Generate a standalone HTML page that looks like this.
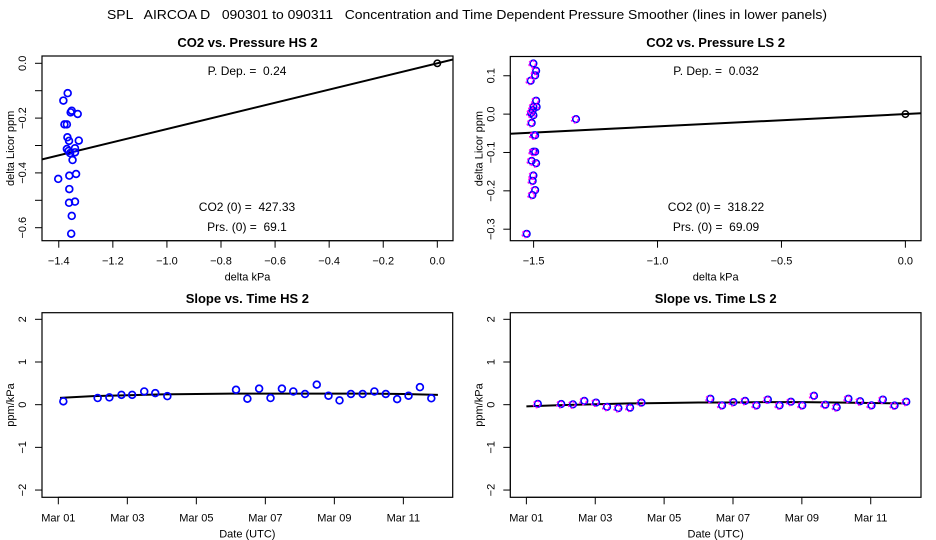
<!DOCTYPE html>
<html><head><meta charset="utf-8"><style>
html,body{margin:0;padding:0;background:#fff}
svg{display:block;font-family:"Liberation Sans",Arial,sans-serif}
</style></head><body>
<svg id="c" width="936" height="540" xmlns="http://www.w3.org/2000/svg">
<text x="467" y="19" font-size="13" text-anchor="middle" textLength="720" lengthAdjust="spacingAndGlyphs" style="white-space:pre" xml:space="preserve">SPL   AIRCOA D   090301 to 090311   Concentration and Time Dependent Pressure Smoother (lines in lower panels)</text>
</svg>
<script>
// ---- data: top-left (HS pressure scatter)
const hsPX=[-1.367,-1.383,-1.379,-1.370,-1.356,-1.352,-1.330,-1.368,-1.362,-1.326,-1.370,-1.364,-1.358,-1.340,-1.340,-1.349,-1.361,-1.336,-1.402,-1.361,-1.362,-1.340,-1.352,-1.354];
const hsPY=[-0.109,-0.136,-0.223,-0.223,-0.179,-0.173,-0.185,-0.270,-0.283,-0.282,-0.313,-0.320,-0.328,-0.310,-0.325,-0.353,-0.410,-0.404,-0.422,-0.459,-0.509,-0.505,-0.557,-0.622];
const hsSlope=0.24, hsIntercept=0.0;
// ---- data: top-right (LS pressure scatter)
const lsPX=[-1.504,-1.493,-1.515,-1.497,-1.504,-1.493,-1.491,-1.513,-1.507,-1.504,-1.511,-1.501,-1.497,-1.504,-1.497,-1.511,-1.493,-1.504,-1.507,-1.497,-1.508,-1.531,-1.332];
const lsPY=[0.132,0.113,0.087,0.101,0.019,0.035,0.019,0.003,0.010,-0.003,-0.023,-0.055,-0.055,-0.098,-0.098,-0.122,-0.128,-0.160,-0.174,-0.198,-0.211,-0.312,-0.013];
const lsSlope=0.032, lsIntercept=0.0;
// ---- data: bottom-left (HS slope vs time, days since Mar 01)
const hsTD=[0.145,1.14,1.48,1.83,2.14,2.49,2.81,3.16,5.15,5.48,5.82,6.15,6.48,6.81,7.15,7.49,7.83,8.15,8.48,8.82,9.16,9.49,9.82,10.15,10.48,10.81];
const hsTV=[0.078,0.156,0.17,0.23,0.23,0.31,0.27,0.2,0.35,0.14,0.375,0.156,0.375,0.31,0.25,0.47,0.21,0.1,0.25,0.25,0.31,0.25,0.13,0.21,0.41,0.15];
const hsSmD=[0.05,1,2,3,4,5,6,7,8,9,10,11];
const hsSmV=[0.16,0.2,0.22,0.24,0.25,0.26,0.26,0.26,0.26,0.26,0.25,0.23];
// ---- data: bottom-right (LS slope vs time)
const lsTD=[0.31,0.99,1.33,1.66,2.0,2.32,2.65,2.99,3.32,5.32,5.66,5.99,6.33,6.66,6.99,7.33,7.66,7.99,8.33,8.66,8.99,9.33,9.67,10.0,10.33,10.67,11.01];
const lsTV=[0.02,0.016,0.008,0.09,0.05,-0.05,-0.08,-0.07,0.05,0.14,-0.016,0.06,0.09,-0.016,0.12,-0.016,0.07,-0.016,0.21,0,-0.06,0.14,0.08,-0.016,0.12,-0.02,0.07];
const lsSmD=[0,1,2,3,4,5,6,7,8,9,10,11];
const lsSmV=[-0.04,-0.01,0.01,0.03,0.04,0.05,0.05,0.06,0.06,0.05,0.04,0.03];
// ---- ticks
const tlXTicks=[-1.4,-1.2,-1.0,-0.8,-0.6,-0.4,-0.2,0.0];
const tlXLabels=["\u22121.4","\u22121.2","\u22121.0","\u22120.8","\u22120.6","\u22120.4","\u22120.2","0.0"];
const tlYTicks=[0,-0.1,-0.2,-0.3,-0.4,-0.5,-0.6];
const tlYLabels=["0.0","","\u22120.2","","\u22120.4","","\u22120.6"];
const trXTicks=[-1.5,-1.0,-0.5,0.0];
const trXLabels=["\u22121.5","\u22121.0","\u22120.5","0.0"];
const trYTicks=[0.1,0,-0.1,-0.2,-0.3];
const trYLabels=["0.1","0.0","\u22120.1","\u22120.2","\u22120.3"];
const bXTicks=[0,2,4,6,8,10];
const bXLabels=["Mar 01","Mar 03","Mar 05","Mar 07","Mar 09","Mar 11"];
const bYTicks=[2,1,0,-1,-2];
const bYLabels=["2","1","0","\u22121","\u22122"];

const svg=document.getElementById('c');
const NS="http://www.w3.org/2000/svg";
function mk(tag,at,parent){const e=document.createElementNS(NS,tag);for(const k in at)e.setAttribute(k,at[k]);(parent||svg).appendChild(e);return e;}

function panel(p){
  const g=mk('g',{});
  
  
  const sx=v=>p.x0+(v-p.xmin)/(p.xmax-p.xmin)*(p.x1-p.x0);
  const sy=v=>p.y1-(v-p.ymin)/(p.ymax-p.ymin)*(p.y1-p.y0);
  const box=mk('rect',{x:p.x0,y:p.y0,width:p.x1-p.x0,height:p.y1-p.y0,fill:'none',stroke:'#000','stroke-width':1.2},g);
  
  
  const t=mk('text',{x:(p.x0+p.x1)/2,y:p.titleY,'font-size':13,'font-weight':'bold','text-anchor':'middle'},g);
  t.textContent=p.title;
  
  
  // x axis
  const xa=mk('g',{},g);
  
  
  const xt=p.xt.map(sx);
  mk('line',{x1:xt[0],x2:xt[xt.length-1],y1:p.y1,y2:p.y1,stroke:'#000'},xa);
  p.xt.forEach((v,i)=>{
    const X=sx(v);
    mk('line',{x1:X,x2:X,y1:p.y1,y2:p.y1+7,stroke:'#000'},xa);
    const l=mk('text',{x:X,y:p.y1+24,'font-size':11,'text-anchor':'middle'},xa);
    l.textContent=p.xl[i];
    
    
  });
  const xtt=mk('text',{x:(p.x0+p.x1)/2,y:p.y1+40,'font-size':11,'text-anchor':'middle'},g);
  xtt.textContent=p.xTitle;
  
  
  // y axis
  const ya=mk('g',{},g);
  
  
  const yt=p.yt.map(sy);
  mk('line',{x1:p.x0,x2:p.x0,y1:Math.min(...yt),y2:Math.max(...yt),stroke:'#000'},ya);
  p.yt.forEach((v,i)=>{
    const Y=sy(v);
    mk('line',{x1:p.x0,x2:p.x0-7,y1:Y,y2:Y,stroke:'#000'},ya);
    if(p.yl[i]){
      const lx=p.x0-16;
      const l=mk('text',{x:lx,y:Y,'font-size':11,'text-anchor':'middle',transform:`rotate(-90 ${lx} ${Y})`},ya);
      l.textContent=p.yl[i];
      
      
    }
  });
  const ytx=p.x0-28, ytyv=(p.y0+p.y1)/2;
  const ytt=mk('text',{x:ytx,y:ytyv,'font-size':11,'text-anchor':'middle',transform:`rotate(-90 ${ytx} ${ytyv})`},g);
  ytt.textContent=p.yTitle;
  
  
  // line
  const cp=mk('clipPath',{id:'cp'+p.id},g);
  mk('rect',{x:p.x0,y:p.y0,width:p.x1-p.x0,height:p.y1-p.y0},cp);
  const lg=mk('g',{'clip-path':`url(#cp${p.id})`},g);
  if(p.lineX){
    const d=p.lineX.map((v,i)=>(i?'L':'M')+sx(v).toFixed(1)+' '+sy(p.lineY[i]).toFixed(1)).join(' ');
    const pl=mk('path',{d:d,fill:'none',stroke:'#000','stroke-width':2},lg);
    
    
  }
  // points
  p.px.forEach((v,i)=>{
    const X=sx(v),Y=sy(p.py[i]);
    if(p.magenta){
      const c1=mk('circle',{cx:X+0.8,cy:Y,r:3.3,fill:'none',stroke:'#00f','stroke-width':1.6},lg);
      
      
      mk('circle',{cx:X-0.5,cy:Y+0.5,r:3.3,fill:'none',stroke:'#f0f','stroke-width':1.4,'stroke-dasharray':'2 2'},lg);
    } else {
      const c=mk('circle',{cx:X,cy:Y,r:3.4,fill:'none',stroke:'#00f','stroke-width':1.7},lg);
      
      
    }
  });
  if(p.origin){
    const o=mk('circle',{cx:sx(0),cy:sy(0),r:3.2,fill:'none',stroke:'#000','stroke-width':1.5},lg);
    
    
  }
  (p.notes||[]).forEach(n=>{
    const a=mk('text',{x:p.noteX,y:n[1],'font-size':12,'text-anchor':'middle','xml:space':'preserve',style:'white-space:pre'},g);
    a.textContent=n[0];
    
    
  });
}

const tlLX=[-1.462,0.058], trLX=[-1.594,0.063];
panel({id:1,name:'co2-vs-pressure-hs-panel',title:'CO2 vs. Pressure HS 2',titleY:47,x0:42,x1:453,y0:56,y1:240.7,
  xmin:-1.462,xmax:0.058,ymin:-0.6+(-(240.7-227.7)/274),ymax:(63.3-56)/274,
  xt:tlXTicks,xl:tlXLabels,yt:tlYTicks,yl:tlYLabels,xTitle:'delta kPa',yTitle:'delta Licor ppm',
  px:hsPX,py:hsPY,lineX:tlLX,lineY:tlLX.map(x=>hsIntercept+hsSlope*x),lineName:'fit-line',origin:true,
  noteX:247,notes:[['P. Dep. =  0.24',75,'pressure-dependence-label'],['CO2 (0) =  427.33',211,'co2-zero-label'],['Prs. (0) =  69.1',231,'pressure-zero-label']]});
panel({id:2,name:'co2-vs-pressure-ls-panel',title:'CO2 vs. Pressure LS 2',titleY:47,x0:510.3,x1:921,y0:56.5,y1:240.7,
  xmin:-1.594,xmax:0.063,ymin:-0.330,ymax:0.1502,
  xt:trXTicks,xl:trXLabels,yt:trYTicks,yl:trYLabels,xTitle:'delta kPa',yTitle:'delta Licor ppm',
  px:lsPX,py:lsPY,magenta:true,lineX:trLX,lineY:trLX.map(x=>lsIntercept+lsSlope*x),lineName:'fit-line',origin:true,
  noteX:716,notes:[['P. Dep. =  0.032',75,'pressure-dependence-label'],['CO2 (0) =  318.22',211,'co2-zero-label'],['Prs. (0) =  69.09',231,'pressure-zero-label']]});
panel({id:3,name:'slope-vs-time-hs-panel',title:'Slope vs. Time HS 2',titleY:303,x0:42,x1:452.7,y0:312.7,y1:497.3,
  xmin:-0.473,xmax:11.43,ymin:-2.17,ymax:2.155,
  xt:bXTicks,xl:bXLabels,yt:bYTicks,yl:bYLabels,xTitle:'Date (UTC)',yTitle:'ppm/kPa',
  px:hsTD,py:hsTV,lineX:hsSmD,lineY:hsSmV,lineName:'smoother-line'});
panel({id:4,name:'slope-vs-time-ls-panel',title:'Slope vs. Time LS 2',titleY:303,x0:510.3,x1:921,y0:312.7,y1:497.3,
  xmin:-0.467,xmax:11.46,ymin:-2.17,ymax:2.155,
  xt:bXTicks,xl:bXLabels,yt:bYTicks,yl:bYLabels,xTitle:'Date (UTC)',yTitle:'ppm/kPa',
  px:lsTD,py:lsTV,magenta:true,lineX:lsSmD,lineY:lsSmV,lineName:'smoother-line'});
</script>
</body></html>
